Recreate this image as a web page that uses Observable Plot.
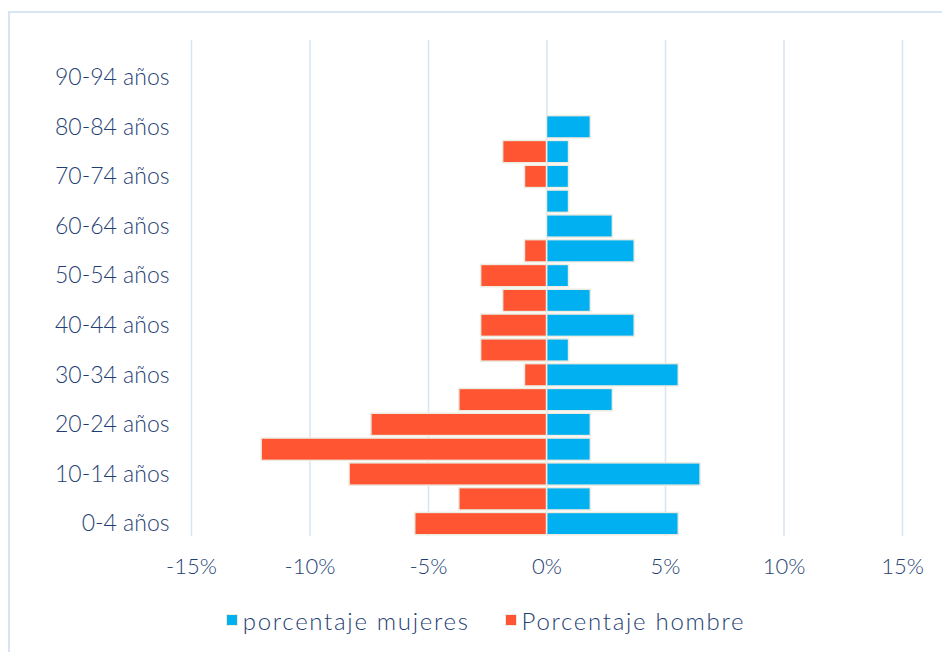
<!DOCTYPE html>
<html>
<head>
<meta charset="utf-8">
<script src="https://cdn.jsdelivr.net/npm/d3@7"></script>
<script src="https://cdn.jsdelivr.net/npm/@observablehq/plot@0.6"></script>
<style>
  body { margin: 0; background: #fff; }
  #wrap { position: relative; width: 942px; height: 652px; overflow: hidden; font-family: "Lato", sans-serif; }
  #frame { position: absolute; left: 8px; top: 11px; width: 1000px; height: 700px;
           border-left: 2px solid #d6e4f4; border-top: 2px solid #d6e4f4; }
  #chart { position: absolute; left: 0; top: 0; }
  #legend { position: absolute; left: 0; top: 600px; width: 942px; height: 40px;
            display: flex; justify-content: center; align-items: center; padding-left: 30px; box-sizing: border-box;
            color: #1f3f74; font-size: 24px; letter-spacing: 1.7px; font-weight: 300; }
  .item { display: flex; align-items: center; margin: 0 18px; }
  .sw { width: 10px; height: 10px; margin-right: 6px; box-shadow: 0 0 0 1px #eeebe0; }
</style>
</head>
<body>
<div id="wrap">
  <div id="frame"></div>
  <div id="chart"></div>
  <div id="legend"></div>
</div>
<script>
const ages = ["0-4 años","5-9 años","10-14 años","15-19 años","20-24 años","25-29 años","30-34 años",
  "35-39 años","40-44 años","45-49 años","50-54 años","55-59 años","60-64 años","65-69 años",
  "70-74 años","75-79 años","80-84 años","85-89 años","90-94 años","95-99 años"];
const mujeres = [5.56, 1.85, 6.48, 1.85, 1.85, 2.78, 5.56, 0.93, 3.70, 1.85, 0.93, 3.70, 2.78, 0.93, 0.93, 0.93, 1.85, 0, 0, 0];
const hombres = [5.56, 3.70, 8.33, 12.04, 7.41, 3.70, 0.93, 2.78, 2.78, 1.85, 2.78, 0.93, 0, 0, 0.93, 1.85, 0, 0, 0, 0];
const xTicks = [-15, -10, -5, 0, 5, 10, 15];
const shownAges = ["0-4 años","10-14 años","20-24 años","30-34 años","40-44 años","50-54 años","60-64 años","70-74 años","80-84 años","90-94 años"];
const seriesNames = ["porcentaje mujeres", "Porcentaje hombre"];
const colors = ["#00b0f0", "#ff5532"];

const rows = [];
ages.forEach((a, i) => {
  if (mujeres[i] > 0) rows.push({age: a, value: mujeres[i], serie: seriesNames[0]});
  if (hombres[i] > 0) rows.push({age: a, value: -hombres[i], serie: seriesNames[1]});
});

const textColor = "#1f3f74";
const chart = Plot.plot({
  width: 942,
  height: 600,
  marginTop: 40,
  marginBottom: 64,
  marginLeft: 191,
  marginRight: 40,
  style: {fontFamily: "Lato, sans-serif", fontSize: "22px", fontWeight: 300, color: textColor, background: "transparent"},
  x: {domain: [-15, 15], ticks: xTicks, tickFormat: d => d + "%", tickSize: 0, tickPadding: 22, label: null},
  y: {domain: ages, reverse: true, paddingInner: 0.1, paddingOuter: 0.05, round: false, ticks: shownAges, tickSize: 0, tickPadding: 22, label: null},
  color: {domain: seriesNames, range: colors},
  marks: [
    Plot.ruleX(xTicks, {stroke: "#d6e4f4", strokeWidth: 1.5}),
    Plot.barX(rows, {y: "age", x1: 0, x2: "value", fill: "serie", stroke: "#eeebe0", strokeWidth: 1.5}),
    Plot.axisX({ticks: xTicks, tickFormat: d => d + "%", tickSize: 0, tickPadding: 22, fill: textColor, label: null, fontSize: 22}),
    Plot.axisY({ticks: shownAges, tickSize: 0, tickPadding: 22, fill: textColor, label: null, fontSize: 23, style: {letterSpacing: "1.2px"}})
  ]
});
document.getElementById("chart").appendChild(chart);

const legend = document.getElementById("legend");
seriesNames.forEach((name, i) => {
  const it = document.createElement("div");
  it.className = "item";
  const sw = document.createElement("span");
  sw.className = "sw";
  sw.style.background = colors[i];
  const t = document.createElement("span");
  t.textContent = name;
  it.appendChild(sw); it.appendChild(t);
  legend.appendChild(it);
});
</script>
</body>
</html>
